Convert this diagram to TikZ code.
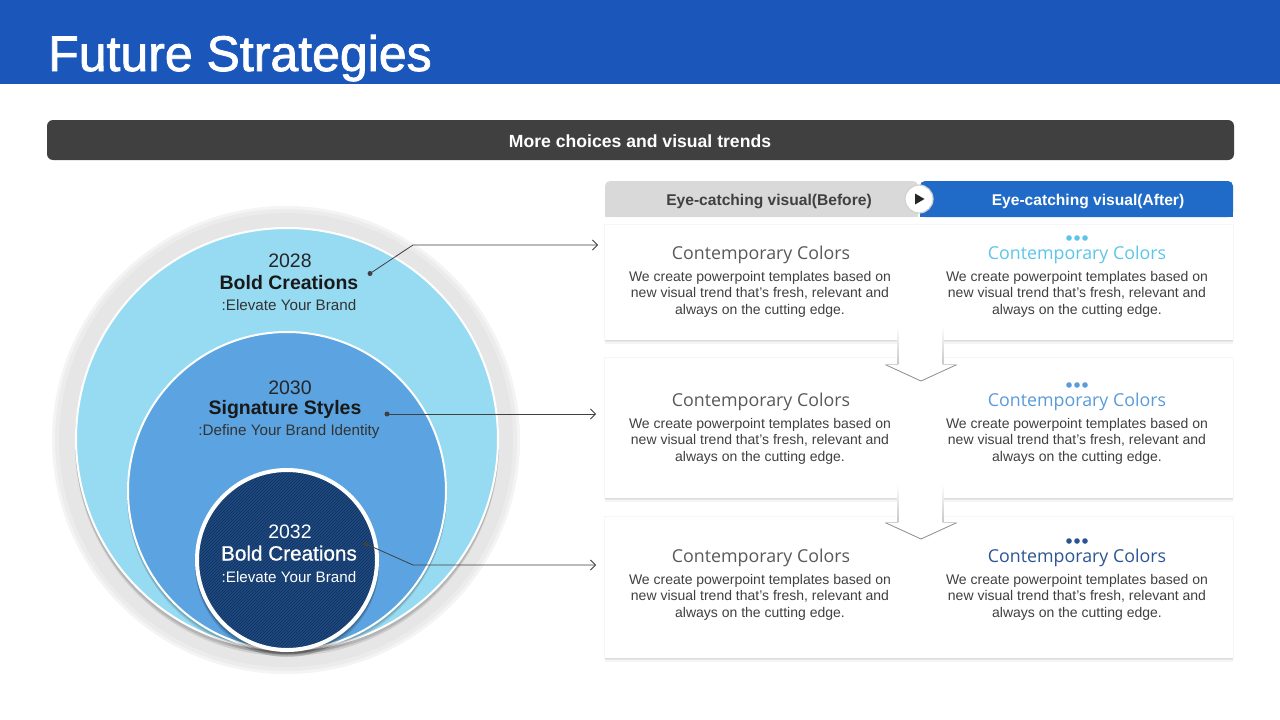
\documentclass[tikz,border=0pt]{standalone}
\usepackage{fontspec}
\setmainfont{Liberation Sans}
\newfontfamily\osans{Open Sans}
\newfontfamily\titlefont[FakeBold=1.6]{Liberation Sans}
\newfontfamily\medfont[FakeBold=0.8]{Liberation Sans}
\usetikzlibrary{arrows.meta,patterns}
\definecolor{topblue}{HTML}{1B57BB}
\definecolor{barcol}{HTML}{404040}
\definecolor{tabgray}{HTML}{D9D9D9}
\definecolor{tabblue}{HTML}{206BC8}
\definecolor{ringgray}{HTML}{E6E6E6}
\definecolor{lblue}{HTML}{97DBF2}
\definecolor{mblue}{HTML}{5BA4E1}
\definecolor{navy}{HTML}{1D4B82}
\definecolor{navystripe}{HTML}{12305A}
\definecolor{txtdark}{HTML}{404040}
\definecolor{ttlgray}{HTML}{595959}
\definecolor{cA}{HTML}{5CC6EA}
\definecolor{cB}{HTML}{5A9BDA}
\definecolor{cC}{HTML}{2B5595}
\definecolor{linecol}{HTML}{404040}
\begin{document}
\begin{tikzpicture}[x=1pt,y=-1pt,
  lbl/.style={inner sep=0pt, anchor=base},
  card/.style={fill=white, inner sep=0pt, minimum width=628pt,
     preaction={fill=black, opacity=0.04, transform canvas={yshift=-3.5pt}},
     preaction={fill=black, opacity=0.06, transform canvas={yshift=-1.5pt}},
     preaction={draw=black, draw opacity=0.035, line width=2pt}},
  conn/.style={draw=linecol, line width=0.8pt, -{Straight Barb[length=5pt,width=10pt]}},
  dotn/.style={circle, fill=linecol, inner sep=0pt, minimum size=5pt},
  yearf/.style={font=\fontsize{19.5}{19.5}\selectfont},
  headf/.style={font=\fontsize{19.5}{19.5}\selectfont\bfseries},
  subf/.style={font=\fontsize{15.2}{15.2}\selectfont},
  cttl/.style={lbl, font=\osans\fontsize{17.8}{17.8}\selectfont},
  cbody/.style={lbl, text=txtdark, font=\fontsize{14}{14}\selectfont},
]
\useasboundingbox (0,0) rectangle (1280,720);
\fill[white] (0,0) rectangle (1280,720);

% title bar
\fill[topblue] (0,0) rectangle (1280,84);
\node[anchor=base west, inner sep=0pt, text=white, font=\titlefont\fontsize{50}{50}\selectfont] (title) at (48,71) {Future Strategies};

% dark bar
\node[fill=barcol, rounded corners=6pt, minimum width=1187pt, minimum height=40pt, inner sep=0pt] (bar) at (640.5,140) {};
\node[lbl, text=white, font=\fontsize{17.6}{17.6}\selectfont\bfseries] (bartxt) at (640,147) {More choices and visual trends};

% tabs
\node[fill=tabgray, rounded corners=5pt, minimum width=313pt, minimum height=36pt, inner sep=0pt] (tabL) at (761.5,199) {};
\fill[tabgray] (605,205) rectangle (918,217);
\node[fill=tabblue, rounded corners=5pt, minimum width=313pt, minimum height=36pt, inner sep=0pt] (tabR) at (1076.5,199) {};
\fill[tabblue] (920,205) rectangle (1233,217);
\node[lbl, text=txtdark, font=\fontsize{15.6}{15.6}\selectfont\bfseries] (tabLt) at (769,205) {Eye-catching visual(Before)};
\node[lbl, text=white, font=\fontsize{15.6}{15.6}\selectfont\bfseries] (tabRt) at (1088,205) {Eye-catching visual(After)};
\node[circle, fill=white, draw=black!18, line width=1.2pt, minimum size=28pt, inner sep=0pt] (play) at (919,199) {};
\fill[black!85] (915,193.5) -- (924.5,199) -- (915,204.5) -- cycle;

% cards
\node[card, minimum height=115pt] (card1) at (919,282.5) {};
\node[card, minimum height=140pt] (card2) at (919,428) {};
\node[card, minimum height=141pt] (card3) at (919,587.5) {};

% down arrows
\foreach \t in {326,484} {
  \fill[white] (898,\t) -- (943,\t) -- (943,\t+38.5) -- (957,\t+38.5) -- (921,\t+55) -- (885,\t+38.5) -- (898,\t+38.5) -- cycle;
  \shade[top color=white, bottom color=black!22] (897.2,\t) rectangle (898.4,\t+38.5);
  \shade[top color=white, bottom color=black!22] (942.6,\t) rectangle (943.8,\t+38.5);
  \draw[black!45, line width=0.8pt] (885,\t+38.5) -- (921,\t+55) -- (957,\t+38.5);
  \draw[black!18, line width=0.6pt] (885,\t+38.5) -- (898,\t+38.5) (943,\t+38.5) -- (957,\t+38.5);
}

% card texts
\foreach \i/\dy/\col in {1/0/cA, 2/147/cB, 3/303/cC} {
  \node[cttl, text=ttlgray] (lt\i) at (761,259.5+\dy) {Contemporary Colors};
  \node[cbody] (la\i) at (760,281+\dy) {We create powerpoint templates based on};
  \node[cbody] (lb\i) at (760,297.5+\dy) {new visual trend that’s fresh, relevant and};
  \node[cbody] (lc\i) at (760,314+\dy) {always on the cutting edge.};
  \node[cttl, text=\col] (rt\i) at (1077,259.5+\dy) {Contemporary Colors};
  \node[cbody] (ra\i) at (1077,281+\dy) {We create powerpoint templates based on};
  \node[cbody] (rb\i) at (1077,297.5+\dy) {new visual trend that’s fresh, relevant and};
  \node[cbody] (rc\i) at (1077,314+\dy) {always on the cutting edge.};
  \foreach \xx in {1069,1077,1085} \fill[\col] (\xx,238+\dy) circle[radius=2.8pt];
}

% circles
\fill[ringgray!45] (286,440) circle[radius=234pt];
\fill[ringgray!75] (286,440) circle[radius=231pt];
\fill[ringgray] (286,440) circle[radius=227pt];
\fill[black, opacity=0.10] (287,444) circle[radius=212pt];
\fill[black, opacity=0.12] (287,442) circle[radius=212pt];
\filldraw[fill=lblue, draw=white, line width=2pt] (287,439) circle[radius=211pt];
\fill[black, opacity=0.10] (287,495) circle[radius=160pt];
\fill[black, opacity=0.14] (287,493) circle[radius=160pt];
\filldraw[fill=mblue, draw=white, line width=2pt] (287,491) circle[radius=159pt];
\fill[black, opacity=0.15] (287,565) circle[radius=92pt];
\fill[black, opacity=0.20] (287,562.5) circle[radius=92pt];
\fill[navy] (287,560) circle[radius=90pt];
\fill[pattern=north east lines, pattern color=navystripe] (287,560) circle[radius=90pt];
\draw[white, line width=4pt] (287,560) circle[radius=90pt];

% circle texts
\node[lbl, yearf, text=black!85] (y1) at (290,267) {2028};
\node[lbl, headf, text=black!90] (h1) at (289,289) {Bold Creations};
\node[lbl, subf, text=black!80] (s1) at (289,310.5) {:Elevate Your Brand};
\node[lbl, yearf, text=black!85] (y2) at (290,394) {2030};
\node[lbl, headf, text=black!90] (h2) at (285,414.5) {Signature Styles};
\node[lbl, subf, text=black!80] (s2) at (289,435.5) {:Define Your Brand Identity};
\node[lbl, yearf, text=white] (y3) at (290,538) {2032};
\node[lbl, text=white, font=\medfont\fontsize{20.7}{20.7}\selectfont] (h3) at (289,560.5) {Bold Creations};
\node[lbl, subf, text=white] (s3) at (289,582) {:Elevate Your Brand};

% connectors
\node[dotn] (d1) at (370,273.5) {};
\node[dotn] (d2) at (387,414) {};
\node[dotn] (d3) at (366,544) {};
\coordinate (k1) at (413,245);
\coordinate (e1) at (598,245);
\coordinate (e2) at (596,414);
\coordinate (k3) at (413,565);
\coordinate (e3) at (596,565);
\draw[conn] (d1.center) -- (k1) -- (e1);
\draw[conn] (d2.center) -- (e2);
\draw[conn] (d3.center) -- (k3) -- (e3);
\end{tikzpicture}
\end{document}
